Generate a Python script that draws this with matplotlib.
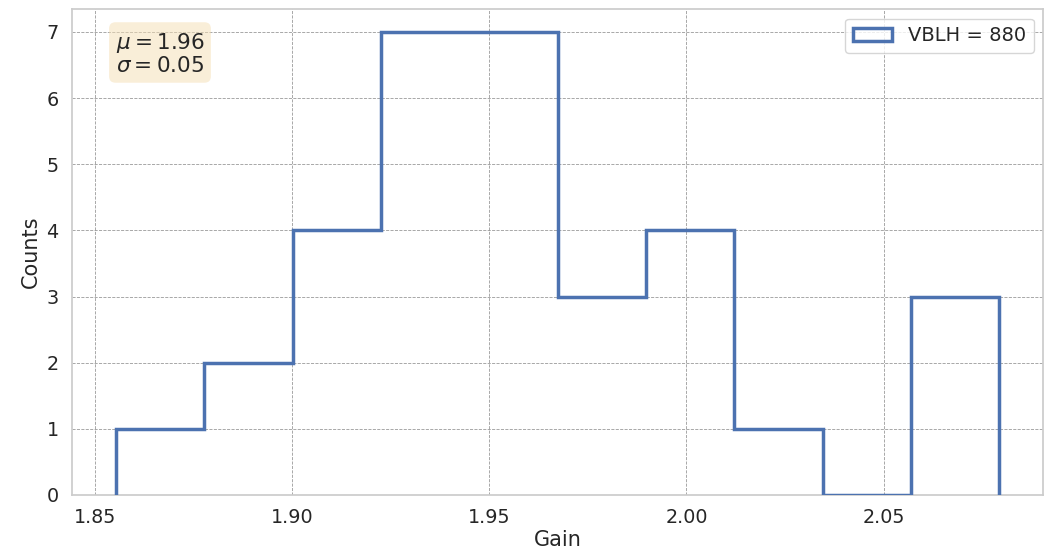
import numpy as np
import matplotlib
matplotlib.use('Agg')
import matplotlib.pyplot as plt
import seaborn as sns

# histogram of gains
bin_edges = [1.8553, 1.8777, 1.9001, 1.9225, 1.9449, 1.9673,
             1.9897, 2.0121, 2.0345, 2.0569, 2.0793]
counts = [1, 2, 4, 7, 7, 3, 4, 1, 0, 3]
label = 'VBLH = 880'
mu, sigma = 1.96, 0.05

sns.set_theme(style='whitegrid', font_scale=1.25)
plt.rcParams['font.family'] = ['DejaVu Sans']

fig, ax = plt.subplots(figsize=(10.56, 5.5), dpi=100)
edges = np.array(bin_edges)
ax.hist(edges[:-1], bins=edges, weights=counts, histtype='step',
        linewidth=2.5, color='#4c72b0', label=label, zorder=3)

ax.grid(True, linestyle='--', color='gray', linewidth=0.6, alpha=0.8)
ax.set_xticks([1.85, 1.90, 1.95, 2.00, 2.05])
ax.set_xticklabels(['1.85', '1.90', '1.95', '2.00', '2.05'])
ax.set_xlabel('Gain', fontsize=15, labelpad=2)
ax.set_ylabel('Counts', fontsize=15)

ax.text(0.045, 0.955, '$\\mu = %.2f$\n$\\sigma = %.2f$' % (mu, sigma),
        transform=ax.transAxes, va='top', fontsize=15.5, linespacing=1.1,
        bbox=dict(boxstyle='round', facecolor='wheat', alpha=0.5, edgecolor='none'))
ax.legend(loc='upper right', fontsize=14)

fig.subplots_adjust(left=0.068, right=0.988, top=0.984, bottom=0.1)
fig.savefig('out.png')
